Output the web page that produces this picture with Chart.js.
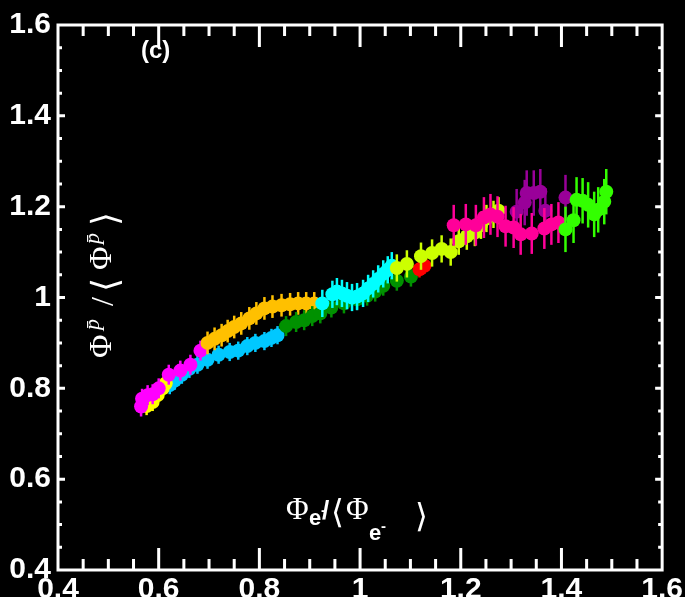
<!DOCTYPE html>
<html>
<head>
<meta charset="utf-8">
<script src="https://cdn.jsdelivr.net/npm/chart.js@4/dist/chart.umd.min.js"></script>
<style>
  html, body { margin: 0; padding: 0; background: #000; }
  canvas { display: block; }
</style>
</head>
<body>
<canvas id="fluxChart" width="685" height="597"></canvas>
<script>
// axis range and labelled ticks
const xRange = [0.4, 1.6];
const yRange = [0.4, 1.6];
const tickStep = 0.2;
const minorStep = 0.05;

// flux ratio points, one pair of arrays per time period
const magentaX = [0.565, 0.567, 0.578, 0.588, 0.600, 0.620, 0.643, 0.663, 0.683];
const magentaY = [0.760, 0.777, 0.785, 0.787, 0.800, 0.830, 0.839, 0.852, 0.883];

const yellowX = [0.576, 0.588, 0.598, 0.608, 0.614];
const yellowY = [0.761, 0.770, 0.785, 0.800, 0.811];

const skyX = [0.622, 0.632, 0.646, 0.661, 0.677, 0.697, 0.719, 0.741, 0.758, 0.776, 0.792, 0.810, 0.824, 0.836];
const skyY = [0.807, 0.817, 0.830, 0.843, 0.852, 0.863, 0.874, 0.880, 0.883, 0.893, 0.900, 0.904, 0.911, 0.917];

const goldX = [0.697, 0.711, 0.725, 0.737, 0.750, 0.764, 0.780, 0.794, 0.810, 0.826, 0.844, 0.861, 0.877, 0.893, 0.909];
const goldY = [0.900, 0.909, 0.917, 0.926, 0.935, 0.943, 0.954, 0.965, 0.976, 0.980, 0.983, 0.985, 0.987, 0.987, 0.987];

const greenX = [0.853, 0.873, 0.889, 0.905, 0.921, 0.943, 0.968, 0.994, 1.014, 1.030, 1.046, 1.073, 1.101];
const greenY = [0.937, 0.946, 0.950, 0.959, 0.965, 0.978, 0.987, 0.996, 1.004, 1.013, 1.026, 1.037, 1.046];

const cyanX = [0.925, 0.945, 0.954, 0.964, 0.974, 0.984, 0.994, 1.006, 1.016, 1.026, 1.036, 1.046, 1.055, 1.063];
const cyanY = [0.987, 1.007, 1.013, 1.009, 1.004, 1.000, 1.002, 1.009, 1.020, 1.030, 1.041, 1.052, 1.061, 1.070];

const chartreuseX = [1.073, 1.093, 1.121, 1.143, 1.162, 1.180, 1.196, 1.212, 1.228, 1.240, 1.251, 1.265, 1.275];
const chartreuseY = [1.065, 1.074, 1.091, 1.098, 1.107, 1.100, 1.124, 1.135, 1.143, 1.159, 1.174, 1.183, 1.191];

const redX = [1.118, 1.128];
const redY = [1.062, 1.070];

const pinkX = [1.186, 1.210, 1.230, 1.246, 1.259, 1.273, 1.289, 1.305, 1.319, 1.341, 1.366, 1.380, 1.394];
const pinkY = [1.159, 1.161, 1.159, 1.176, 1.183, 1.178, 1.157, 1.154, 1.139, 1.141, 1.152, 1.161, 1.165];

const purpleX = [1.311, 1.327, 1.331, 1.345, 1.358, 1.368, 1.408];
const purpleY = [1.189, 1.209, 1.230, 1.230, 1.233, 1.191, 1.220];

const limeX = [1.408, 1.424, 1.430, 1.442, 1.453, 1.465, 1.473, 1.485, 1.489];
const limeY = [1.150, 1.170, 1.215, 1.213, 1.204, 1.183, 1.193, 1.211, 1.233];

// top-most series first (Chart.js paints index 0 last)
const series = [
  { color: '#33ff00', xs: limeX, ys: limeY, err: 0.050 },
  { color: '#ff0099', xs: pinkX, ys: pinkY, err: 0.045 },
  { color: '#990099', xs: purpleX, ys: purpleY, err: 0.050 },
  { color: '#ccff00', xs: chartreuseX, ys: chartreuseY, err: 0.030 },
  { color: '#ff0000', xs: redX, ys: redY, err: 0.018 },
  { color: '#00ffff', xs: cyanX, ys: cyanY, err: 0.030 },
  { color: '#009100', xs: greenX, ys: greenY, err: 0.022 },
  { color: '#ffc000', xs: goldX, ys: goldY, err: 0.025 },
  { color: '#ff00ff', xs: magentaX, ys: magentaY, err: 0.022 },
  { color: '#ffff00', xs: yellowX, ys: yellowY, err: 0.020 },
  { color: '#00c8ff', xs: skyX, ys: skyY, err: 0.020 }
];

const datasets = series.map(s => ({
  data: s.xs.map((x, i) => ({ x: x, y: s.ys[i] })),
  err: s.err,
  backgroundColor: s.color,
  borderWidth: 0,
  pointRadius: 7,
  pointHoverRadius: 7
}));

const sans = "'Liberation Sans', Arial, sans-serif";
const serif = "'Liberation Serif', 'DejaVu Serif', serif";

function drawPieces(ctx, pieces) {
  pieces.forEach(p => {
    ctx.font = p.font;
    ctx.fillText(p.t, p.x, p.y);
  });
}

const background = {
  id: 'background',
  beforeDraw(chart) {
    const ctx = chart.ctx;
    ctx.save();
    ctx.fillStyle = '#000';
    ctx.fillRect(0, 0, chart.width, chart.height);
    ctx.restore();
  }
};

// vertical error bars under each series' markers
const errorBars = {
  id: 'errorBars',
  beforeDatasetDraw(chart, args) {
    const ds = chart.data.datasets[args.index];
    const { ctx, scales: { x, y } } = chart;
    ctx.save();
    ctx.strokeStyle = ds.backgroundColor;
    ctx.lineWidth = 2.5;
    ds.data.forEach(p => {
      const px = x.getPixelForValue(p.x);
      ctx.beginPath();
      ctx.moveTo(px, y.getPixelForValue(p.y - ds.err));
      ctx.lineTo(px, y.getPixelForValue(p.y + ds.err));
      ctx.stroke();
    });
    ctx.restore();
  }
};

// white frame with inward ticks on all four sides, plus the axis titles
const frame = {
  id: 'frame',
  afterDraw(chart) {
    const { ctx, chartArea: a, scales: { x, y } } = chart;
    ctx.save();
    ctx.strokeStyle = '#fff';
    ctx.lineWidth = 3;
    ctx.strokeRect(a.left, a.top, a.right - a.left, a.bottom - a.top);

    const perMajor = Math.round(tickStep / minorStep);
    const nx = Math.round((xRange[1] - xRange[0]) / minorStep);
    ctx.beginPath();
    for (let k = 1; k < nx; k++) {
      const len = k % perMajor === 0 ? 22 : 11;
      const px = x.getPixelForValue(xRange[0] + k * minorStep);
      ctx.moveTo(px, a.bottom); ctx.lineTo(px, a.bottom - len);
      ctx.moveTo(px, a.top); ctx.lineTo(px, a.top + len);
    }
    const ny = Math.round((yRange[1] - yRange[0]) / minorStep);
    for (let k = 1; k < ny; k++) {
      const len = k % perMajor === 0 ? 7 : 4;
      const py = y.getPixelForValue(yRange[0] + k * minorStep);
      ctx.moveTo(a.left, py); ctx.lineTo(a.left + len, py);
      ctx.moveTo(a.right, py); ctx.lineTo(a.right - len, py);
    }
    ctx.stroke();

    ctx.fillStyle = '#fff';
    ctx.textBaseline = 'alphabetic';
    ctx.textAlign = 'left';

    ctx.font = 'bold 24px ' + sans;
    ctx.fillText('(c)', 141, 58);

    // x title: Φe-/<Φe->
    drawPieces(ctx, [
      { t: 'Φ', x: 286, y: 519, font: '31px ' + serif },
      { t: 'e', x: 309, y: 525, font: 'bold 22px ' + sans },
      { t: '-', x: 321, y: 515, font: 'bold 15px ' + sans },
      { t: '/', x: 322, y: 519, font: 'bold 26px ' + sans },
      { t: '⟨', x: 331, y: 523, font: '33px ' + serif },
      { t: 'Φ', x: 346, y: 519, font: '31px ' + serif },
      { t: 'e', x: 369, y: 540, font: 'bold 22px ' + sans },
      { t: '-', x: 381, y: 531, font: 'bold 15px ' + sans },
      { t: '⟩', x: 415, y: 527, font: '33px ' + serif }
    ]);

    // y title, rotated: Φ^p̄ / <Φ^p̄>
    ctx.translate(111, 358);
    ctx.rotate(-Math.PI / 2);
    drawPieces(ctx, [
      { t: 'Φ', x: 0, y: 0, font: '32px ' + serif },
      { t: 'p\u0304', x: 28, y: -12, font: 'italic 22px ' + serif },
      { t: '/', x: 52, y: 2, font: '32px ' + serif },
      { t: '⟨', x: 66, y: 6, font: '36px ' + serif },
      { t: 'Φ', x: 88, y: 0, font: '32px ' + serif },
      { t: 'p\u0304', x: 114, y: -12, font: 'italic 22px ' + serif },
      { t: '⟩', x: 132, y: 6, font: '36px ' + serif }
    ]);
    ctx.restore();
  }
};

const tickFont = { family: sans, size: 30, weight: 'bold' };
const fmt = v => String(Number(v.toFixed(1)));

new Chart(document.getElementById('fluxChart'), {
  type: 'scatter',
  data: { datasets: datasets },
  options: {
    responsive: false,
    devicePixelRatio: 1,
    animation: false,
    layout: { padding: { top: 18, right: 21, left: 0, bottom: 0 } },
    plugins: { legend: { display: false }, tooltip: { enabled: false } },
    scales: {
      x: {
        min: xRange[0], max: xRange[1],
        grid: { display: false, drawTicks: false },
        border: { display: false },
        afterFit: s => { s.height = 27; },
        ticks: { stepSize: tickStep, autoSkip: false, maxRotation: 0, padding: 2, color: '#fff', font: tickFont, callback: fmt }
      },
      y: {
        min: yRange[0], max: yRange[1],
        grid: { display: false, drawTicks: false },
        border: { display: false },
        afterFit: s => { s.width = 58; },
        ticks: { stepSize: tickStep, autoSkip: false, padding: 7, color: '#fff', font: tickFont, callback: fmt }
      }
    }
  },
  plugins: [background, errorBars, frame]
});
</script>
</body>
</html>
